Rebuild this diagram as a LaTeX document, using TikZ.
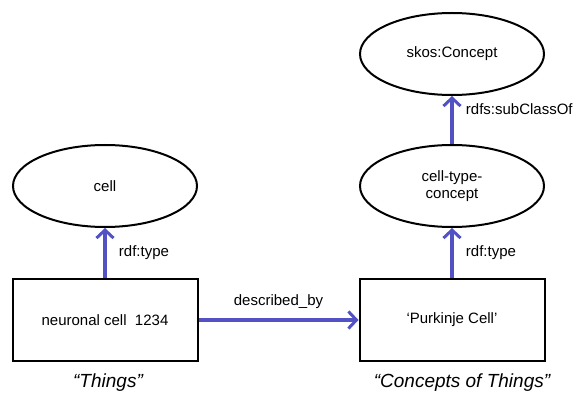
\documentclass[tikz,border=0pt]{standalone}
\usepackage{fontspec}
\setmainfont{Liberation Sans}
\usepackage{tikz}
\usetikzlibrary{shapes.geometric,arrows.meta}
\definecolor{linkblue}{RGB}{82,82,196}

\begin{document}
\begin{tikzpicture}[x=1pt, y=1pt,
  thing/.style={draw, line width=2pt, minimum width=185pt, minimum height=82pt, font=\fontsize{15}{17}\selectfont},
  concept/.style={ellipse, draw, line width=2pt, minimum width=184pt, minimum height=82pt, inner sep=0pt, align=center, font=\fontsize{15}{17}\selectfont},
  link/.style={draw=linkblue, line width=3.2pt, -{Straight Barb[length=8pt,width=17pt,line width=3pt]}},
  linklabel/.style={font=\fontsize{15}{17}\selectfont, text=black},
  caption/.style={font=\fontsize{19}{21}\selectfont\itshape}]
\useasboundingbox (0,0) rectangle (581,394);
% things side
\node [thing] (neuron) at (105,74) {neuronal cell\ \ 1234};
\node [concept] (cell) at (105,208) {cell};
% concepts side
\node [thing] (purkinje) at (452,74) {‘Purkinje Cell’};
\node [concept] (celltype) at (452,208) {cell-type-\\concept};
\node [concept] (skos) at (452,340) {skos:Concept};
% captions
\node [caption] (things) at (108,11) {“Things”};
\node [caption] (concepts) at (462,11) {“Concepts of Things”};
% links
\draw [link] (neuron) -- (cell) node[linklabel, midway, anchor=west, xshift=9pt] {rdf:type};
\draw [link] (purkinje) -- (celltype) node[linklabel, midway, anchor=west, xshift=9pt] {rdf:type};
\draw [link] (celltype) -- (skos) node[linklabel, pos=0.72, anchor=west, xshift=9pt] {rdfs:subClassOf};
\draw [link] (neuron) -- (purkinje) node[linklabel, midway, anchor=south, yshift=6pt] {described\_by};
\end{tikzpicture}
\end{document}
